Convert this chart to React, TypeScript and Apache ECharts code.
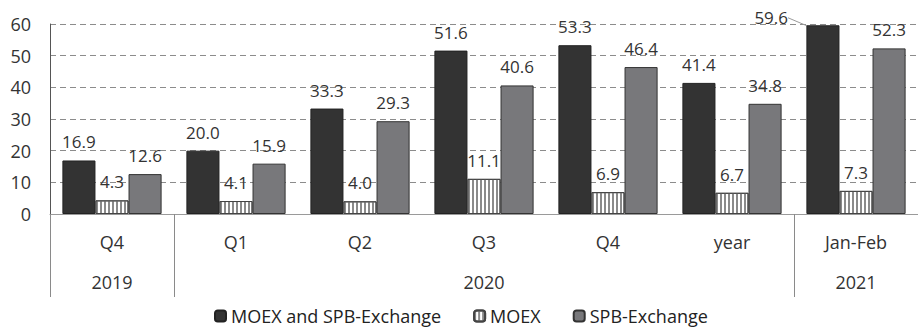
import React, { useEffect, useRef } from "react";
import * as echarts from "echarts";

const categories = ["Q4", "Q1", "Q2", "Q3", "Q4", "year", "Jan-Feb"];
const years = ["2019", "2020", "2020", "2020", "2020", "2020", "2021"];
const seriesNames = ["MOEX and SPB-Exchange", "MOEX", "SPB-Exchange"];
const both = [16.9, 20.0, 33.3, 51.6, 53.3, 41.4, 59.6];
const moex = [4.3, 4.1, 4.0, 11.1, 6.9, 6.7, 7.3];
const spb = [12.6, 15.9, 29.3, 40.6, 46.4, 34.8, 52.3];
const yTicks = [0, 10, 20, 30, 40, 50, 60];

const FONT = "Open Sans";

export default function App() {
  const ref = useRef<HTMLDivElement>(null);
  useEffect(() => {
    if (!ref.current) return;
    const chart = echarts.init(ref.current, undefined, { renderer: "svg" });

    // year label shown at the middle category of each year group
    const yearLabels = categories.map(() => "");
    let start = 0;
    for (let i = 1; i <= years.length; i++) {
      if (i === years.length || years[i] !== years[start]) {
        const mid = Math.floor((start + i - 1) / 2);
        yearLabels[mid] = years[start];
        start = i;
      }
    }
    const isYearStart = (i: number) => i === 0 || i >= years.length || years[i] !== years[i - 1];

    const labelStyle = {
      show: true,
      position: "top" as const,
      distance: 10,
      fontFamily: FONT,
      fontSize: 17,
      color: "#333",
      formatter: (p: any) => Number(p.value).toFixed(1),
    };

    // the tallest bar's label is moved aside with a leader line
    const bothData = both.map((v, i) =>
      i === both.length - 1
        ? {
            value: v,
            label: { position: [-52, -16], align: "left", verticalAlign: "top" },
            labelLine: { show: true },
          }
        : { value: v }
    );

    chart.setOption({
      animation: false,
      textStyle: { fontFamily: FONT },
      grid: { left: 50, top: 24, width: 874, height: 190 },
      legend: {
        left: 209,
        top: 302,
        itemWidth: 11,
        itemHeight: 11,
        itemGap: 32,
        textStyle: { fontFamily: FONT, fontSize: 18, color: "#222" },
        data: seriesNames,
      },
      xAxis: [
        {
          type: "category",
          data: categories,
          position: "bottom",
          axisLine: { show: true, lineStyle: { color: "#9a9a9a", width: 1 } },
          axisTick: {
            show: true,
            length: 83,
            interval: (i: number) => isYearStart(i),
            lineStyle: { color: "#8a8a8a", width: 1 },
          },
          axisLabel: { margin: 19, fontFamily: FONT, fontSize: 18, color: "#333", interval: 0 },
        },
        {
          type: "category",
          data: yearLabels,
          position: "bottom",
          gridIndex: 0,
          axisLine: { show: false },
          axisTick: { show: false },
          axisLabel: { margin: 59, fontFamily: FONT, fontSize: 18, color: "#333", interval: 0 },
        },
      ],
      yAxis: {
        type: "value",
        min: yTicks[0],
        max: yTicks[yTicks.length - 1],
        interval: 10,
        axisLine: { show: true, lineStyle: { color: "#555", width: 1 } },
        axisTick: { show: false },
        axisLabel: { margin: 19, fontFamily: FONT, fontSize: 18, color: "#333" },
        splitLine: { show: true, lineStyle: { color: "#8c8c8c", type: [6, 4], width: 1 } },
      },
      series: [
        {
          name: seriesNames[0],
          type: "bar",
          data: bothData,
          barGap: "0%",
          barCategoryGap: "20%",
          itemStyle: { color: "#333333", borderColor: "#222", borderWidth: 1 },
          label: labelStyle,
          labelLine: { show: false, lineStyle: { color: "#9a9a9a", width: 1 } },
        },
        {
          name: seriesNames[1],
          type: "bar",
          data: moex,
          itemStyle: {
            color: "#ffffff",
            borderColor: "#444",
            borderWidth: 1,
            decal: {
              symbol: "rect",
              symbolSize: 1,
              dashArrayX: [1.5, 1.5],
              dashArrayY: [4, 0],
              color: "#8a8a8a",
              rotation: 0,
            },
          },
          label: labelStyle,
        },
        {
          name: seriesNames[2],
          type: "bar",
          data: spb,
          itemStyle: { color: "#78787b", borderColor: "#333", borderWidth: 1 },
          label: labelStyle,
        },
      ],
    });
    return () => chart.dispose();
  }, []);
  return <div ref={ref} style={{ width: 918, height: 327, position: "absolute", left: 0, top: 0 }} />;
}
